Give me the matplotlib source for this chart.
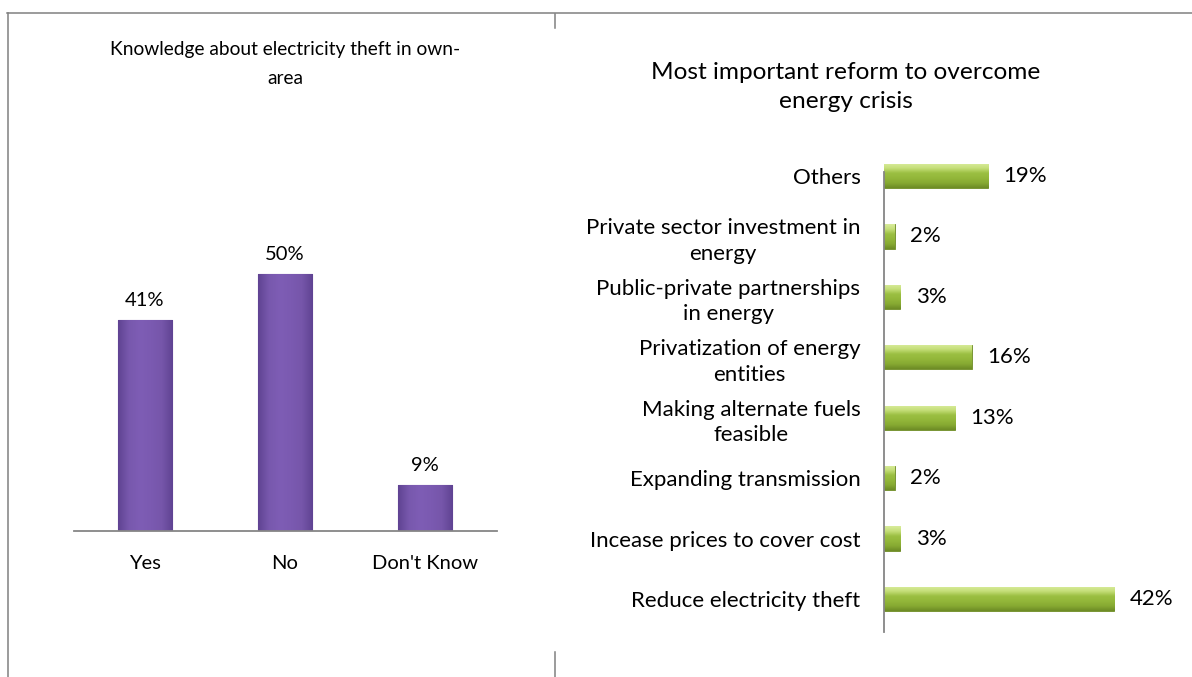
import numpy as np
import matplotlib
matplotlib.use("Agg")
import matplotlib.pyplot as plt
from matplotlib.lines import Line2D
from matplotlib.colors import LinearSegmentedColormap

# survey results
theft_labels = ["Yes", "No", "Don't Know"]
theft_values = [41, 50, 9]

reform_labels = [
    "Reduce electricity theft",
    "Incease prices to cover cost",
    "Expanding transmission",
    "Making alternate fuels\nfeasible",
    "Privatization of energy\nentities",
    "Public-private partnerships\nin energy",
    "Private sector investment in\nenergy",
    "Others",
]
reform_values = [42, 3, 2, 13, 16, 3, 2, 19]

plt.rcParams["font.family"] = ["Lato", "DejaVu Sans"]

W, H = 1192, 677
fig = plt.figure(figsize=(W / 100, H / 100), dpi=100)
fig.patch.set_facecolor("white")


def px(x0, y0, x1, y1):
    # pixel box (top-left origin) -> figure fraction rect
    return [x0 / W, 1 - y1 / H, (x1 - x0) / W, (y1 - y0) / H]


def shade(ax, bars, cmap, horizontal):
    # paint a shaded gradient inside each bar
    grad = np.linspace(0, 1, 256)
    img = grad[None, :] if horizontal else grad[:, None]
    for b in bars:
        x, y = b.get_x(), b.get_y()
        w, h = b.get_width(), b.get_height()
        im = ax.imshow(img, cmap=cmap, aspect="auto", origin="lower",
                       extent=(x, x + w, y, y + h), zorder=b.get_zorder() + 0.1,
                       interpolation="bicubic")
        im.set_clip_path(b)


purple = LinearSegmentedColormap.from_list(
    "purple", ["#5f4392", "#7858ad", "#7e5db5", "#7b5ab1", "#7656aa", "#5f4392"])
green = LinearSegmentedColormap.from_list(
    "green", ["#6c8a25", "#86a932", "#93b73a", "#9bbf42", "#c6df7a", "#d9ec9c"])

# left chart
ax1 = fig.add_axes(px(74, 170, 497, 531))
bars1 = ax1.bar(range(len(theft_values)), theft_values, width=0.39,
                color="#7b5ab1", edgecolor="#5f4392", linewidth=0.8, zorder=2)
shade(ax1, bars1, purple, horizontal=True)
ax1.set_xlim(-0.507, 2.514)
ax1.set_ylim(0, 361 / 5.14)
ax1.set_xticks(range(len(theft_labels)))
ax1.set_xticklabels(theft_labels, fontsize=14.5)
ax1.tick_params(axis="x", length=0, pad=17)
ax1.set_yticks([])
for s in ["top", "left", "right"]:
    ax1.spines[s].set_visible(False)
ax1.spines["bottom"].set_color("#868686")
ax1.spines["bottom"].set_linewidth(1.3)
ax1.spines["bottom"].set_zorder(3)
for b, v in zip(bars1, theft_values):
    ax1.annotate(f"{v}%", (b.get_x() + b.get_width() / 2, v),
                 xytext=(0, 8), textcoords="offset points",
                 ha="center", va="bottom", fontsize=14.5)

fig.text(285.5 / W, 1 - 64 / H, "Knowledge about electricity theft in own-\narea",
         ha="center", va="center", fontsize=13.8, linespacing=1.9)

# right chart
ax2 = fig.add_axes(px(884, 172, 1160, 632))
pos = np.arange(len(reform_values))
bars2 = ax2.barh(pos, reform_values, height=0.4,
                 color="#93b73a", edgecolor="#6c8a25", linewidth=0.6, zorder=2)
shade(ax2, bars2, green, horizontal=False)
ax2.set_ylim(-0.546, 7.066)
ax2.set_xlim(0, 276 / 5.48)
ax2.set_yticks(pos)
ax2.set_yticklabels(reform_labels, fontsize=16, multialignment="center",
                    linespacing=1.35)
ax2.tick_params(axis="y", length=0, pad=17)
ax2.set_xticks([])
for s in ["top", "bottom", "right"]:
    ax2.spines[s].set_visible(False)
ax2.spines["left"].set_color("#868686")
ax2.spines["left"].set_linewidth(1.3)
ax2.spines["left"].set_zorder(3)
for b, v in zip(bars2, reform_values):
    ax2.annotate(f"{v}%", (v, b.get_y() + b.get_height() / 2),
                 xytext=(11, 0), textcoords="offset points",
                 ha="left", va="center", fontsize=16)

fig.text(846 / W, 1 - 87 / H, "Most important reform to overcome\nenergy crisis",
         ha="center", va="center", fontsize=17.6, linespacing=1.5)

# page table borders
border = dict(color="#808080", linewidth=1.1, transform=fig.transFigure)
fig.lines.append(Line2D([7 / W, 1], [1 - 13 / H, 1 - 13 / H], **border))
fig.lines.append(Line2D([8 / W, 8 / W], [1 - 13 / H, 0], **border))
fig.lines.append(Line2D([555 / W, 555 / W], [1 - 14 / H, 1 - 28 / H], **border))
fig.lines.append(Line2D([555 / W, 555 / W], [1 - 652 / H, 0], **border))

fig.savefig("out.png", dpi=100)
